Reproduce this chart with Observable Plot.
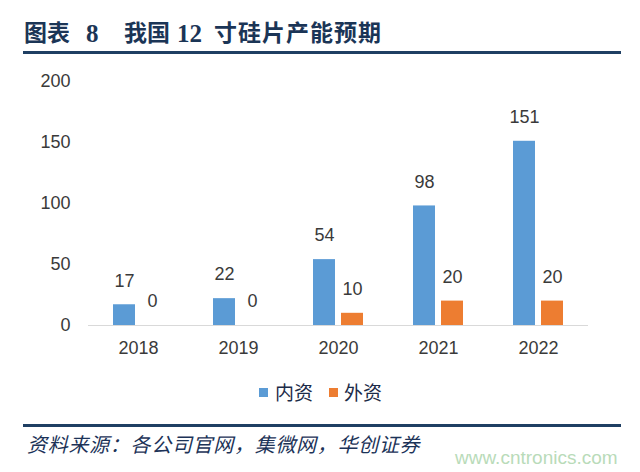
<!DOCTYPE html>
<html>
<head>
<meta charset="utf-8">
<script src="https://cdn.jsdelivr.net/npm/d3@7"></script>
<script src="https://cdn.jsdelivr.net/npm/@observablehq/plot@0.6"></script>
<style>
  html, body { margin: 0; padding: 0; background: #fff; }
  #root { position: relative; width: 640px; height: 472px; overflow: hidden; background: #fff; }
  .abs { position: absolute; white-space: pre; line-height: 1; }
  .title { font-family: "Liberation Serif", "Noto Sans CJK SC", serif; font-weight: bold; font-size: 23px; color: #1b3556; }
  .digit { font-size: 25px; }
  .rule { position: absolute; height: 3px; background: #1f3f63; }
  .leg { font-family: "Noto Sans CJK SC", sans-serif; font-size: 19px; color: #1c2b48; }
  .sw { position: absolute; width: 9px; height: 9px; }
  #chart { position: absolute; left: 0; top: 60px; }
</style>
</head>
<body>
<div id="root">
  <span class="abs title" style="left:24px; top:22px;">图表</span>
  <span class="abs title digit" style="left:86px; top:21px;">8</span>
  <span class="abs title" style="left:124px; top:22px;">我国</span>
  <span class="abs title digit" style="left:177px; top:21px;">12</span>
  <span class="abs title" style="left:214px; top:22px; letter-spacing:1px;">寸硅片产能预期</span>
  <div class="rule" style="left:23px; top:51px; width:598px;"></div>
  <div id="chart"></div>
  <div class="sw" style="left:259px; top:388px; background:#5B9BD5;"></div>
  <span class="abs leg" style="left:275px; top:382px;">内资</span>
  <div class="sw" style="left:329px; top:388px; background:#ED7D31;"></div>
  <span class="abs leg" style="left:344px; top:382px;">外资</span>
  <div class="rule" style="left:23px; top:424px; width:598px;"></div>
  <span class="abs" style="left:27px; top:434px; font-family:'Noto Sans CJK SC',sans-serif; font-style:italic; font-size:20px; letter-spacing:0.7px; color:#1c3358;">资料来源：各公司官网，集微网，华创证券</span>
  <span class="abs" style="left:455px; top:448px; font-family:'Liberation Sans',Arial,sans-serif; font-size:19px; color:#b9dbb9;">www.cntronics.com</span>
</div>
<script>
const years = ["2018", "2019", "2020", "2021", "2022"];
const seriesNames = ["内资", "外资"];
const domestic = [17, 22, 54, 98, 151];
const foreign = [0, 0, 10, 20, 20];
const colors = ["#5B9BD5", "#ED7D31"];
const yTicks = [0, 50, 100, 150, 200];

const rows = [];
years.forEach((yr, i) => {
  rows.push({year: yr, series: seriesNames[0], value: domestic[i]});
  rows.push({year: yr, series: seriesNames[1], value: foreign[i]});
});

const chart = Plot.plot({
  width: 640,
  height: 300,
  marginLeft: 88,
  marginRight: 52,
  marginTop: 21,
  marginBottom: 35,
  style: {fontFamily: "'Liberation Sans', Arial, sans-serif", fontSize: "18px", color: "#3a3a3a", background: "transparent"},
  fx: {domain: years, padding: 0, axis: "bottom", tickSize: 0, tickPadding: 16, label: null},
  x: {domain: seriesNames, paddingInner: 0.21, paddingOuter: 0.86, axis: null},
  y: {domain: [0, 200], ticks: yTicks, tickSize: 0, tickPadding: 18, label: null},
  color: {domain: seriesNames, range: colors},
  marks: [
    Plot.barY(rows, {fx: "year", x: "series", y: "value", fill: "series"}),
    Plot.ruleY([0], {stroke: "#d9d9d9", strokeWidth: 1}),
    Plot.text(rows, {fx: "year", x: "series", y: "value", text: d => String(d.value), dy: -24, fill: "#3a3a3a", fontSize: 18})
  ]
});
document.getElementById("chart").appendChild(chart);
</script>
</body>
</html>
